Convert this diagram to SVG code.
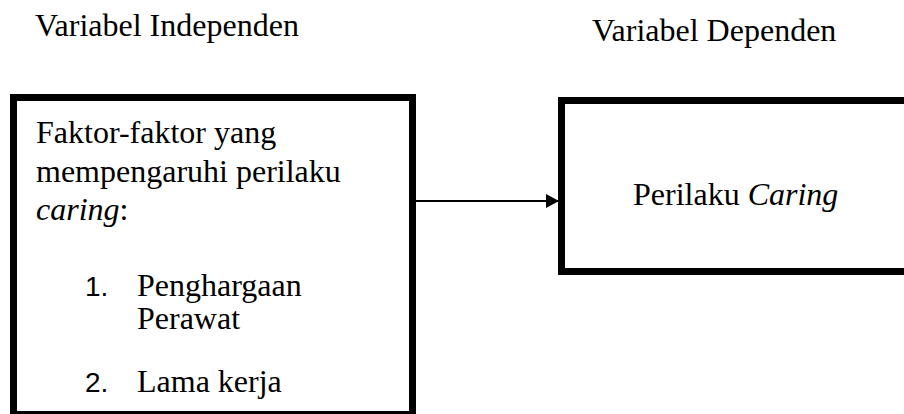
<svg xmlns="http://www.w3.org/2000/svg" width="904" height="414" viewBox="0 0 904 414">
  <defs>
    <style>
      .t { font-family: "Liberation Serif", "Times New Roman", serif; font-size: 32px; fill: #000; }
      .i { font-style: italic; }
      .num { font-family: "Liberation Sans", Arial, sans-serif; font-size: 28px; fill: #000; }
      .box { fill: none; stroke: #000; stroke-width: 7; }
      .link { stroke: #000; stroke-width: 2; fill: none; }
    </style>
    <marker id="arrowhead" markerWidth="14" markerHeight="14" refX="13" refY="7" orient="auto" markerUnits="userSpaceOnUse">
      <path d="M0,0 L13,7 L0,14 Z" fill="#000"/>
    </marker>
  </defs>
  <rect width="904" height="414" fill="#fff"/>

  <!-- column headings -->
  <g id="headings">
    <text class="t" x="35" y="36">Variabel Independen</text>
    <text class="t" x="592" y="41">Variabel Dependen</text>
  </g>

  <!-- independent variable box -->
  <g id="node-independen">
    <rect class="box" x="13.5" y="97.5" width="399" height="317"/>
    <text class="t" x="36" y="143">Faktor-faktor yang</text>
    <text class="t" x="36" y="182">mempengaruhi perilaku</text>
    <text class="t" x="36" y="220"><tspan class="i">caring</tspan>:</text>
    <text class="num" x="85" y="296">1.</text>
    <text class="t" x="137" y="296">Penghargaan</text>
    <text class="t" x="137" y="329">Perawat</text>
    <text class="num" x="85" y="392">2.</text>
    <text class="t" x="137" y="392">Lama kerja</text>
  </g>

  <!-- dependent variable box -->
  <g id="node-dependen">
    <rect class="box" x="561.5" y="100.5" width="400" height="171"/>
    <text class="t" x="633" y="205">Perilaku <tspan class="i">Caring</tspan></text>
  </g>

  <!-- connectors -->
  <g id="connectors">
    <line class="link" x1="416" y1="201" x2="559" y2="201" marker-end="url(#arrowhead)"/>
  </g>
</svg>
